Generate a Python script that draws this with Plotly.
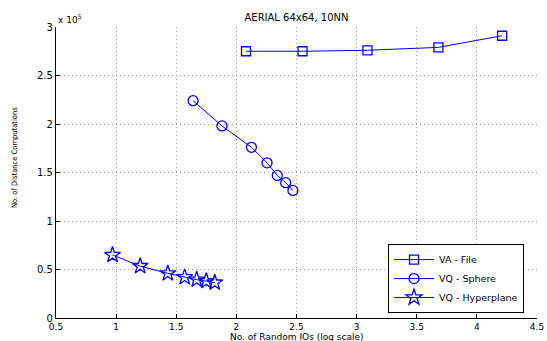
import plotly.graph_objects as go

# Data (y in units of 1e5 distance computations)
va_file_x = [2.08, 2.55, 3.09, 3.68, 4.21]
va_file_y = [2.75, 2.75, 2.76, 2.79, 2.91]

vq_sphere_x = [1.64, 1.88, 2.125, 2.255, 2.34, 2.41, 2.47]
vq_sphere_y = [2.24, 1.98, 1.76, 1.60, 1.47, 1.395, 1.315]

vq_hyper_x = [0.97, 1.20, 1.43, 1.57, 1.67, 1.75, 1.82]
vq_hyper_y = [0.65, 0.535, 0.46, 0.42, 0.395, 0.38, 0.365]

x_ticks = [0.5, 1, 1.5, 2, 2.5, 3, 3.5, 4, 4.5]
y_ticks = [0, 0.5, 1, 1.5, 2, 2.5, 3]

BLUE = "#0000ff"
FONT = "DejaVu Sans, Liberation Sans, Arial, sans-serif"

fig = go.Figure()
fig.add_trace(go.Scatter(x=va_file_x, y=va_file_y, mode="lines+markers", name="VA - File",
                         line=dict(color=BLUE, width=1),
                         marker=dict(symbol="square-open", size=9, color=BLUE, line=dict(width=1.3))))
fig.add_trace(go.Scatter(x=vq_sphere_x, y=vq_sphere_y, mode="lines+markers", name="VQ - Sphere",
                         line=dict(color=BLUE, width=1),
                         marker=dict(symbol="circle-open", size=10, color=BLUE, line=dict(width=1.3))))
fig.add_trace(go.Scatter(x=vq_hyper_x, y=vq_hyper_y, mode="lines+markers", name="VQ - Hyperplane",
                         line=dict(color=BLUE, width=1),
                         marker=dict(symbol="star-open", size=12, color=BLUE, line=dict(width=1.3))))

axis_common = dict(
    showline=True, linecolor="black", linewidth=1.3, mirror=False,
    ticks="inside", ticklen=4, tickcolor="black", tickwidth=1,
    showgrid=True, gridcolor="#9a9a9a", griddash="1px,3px", gridwidth=1,
    zeroline=False, automargin=False,
    tickfont=dict(family=FONT, size=10, color="black"),
)

fig.update_xaxes(range=[0.5, 4.5], tickvals=x_ticks, ticktext=[f"{v:g}" for v in x_ticks],
                 ticklabelstandoff=0, **axis_common)
fig.update_xaxes(tickfont=dict(size=9))
fig.update_yaxes(range=[0, 3], tickvals=y_ticks, ticktext=[f"{v:g}" for v in y_ticks],
                 **axis_common)

fig.add_annotation(text="No. of Random IOs (log scale)",
                   xref="paper", yref="paper", x=0.5, y=-0.064,
                   showarrow=False, xanchor="center", yanchor="middle",
                   font=dict(family=FONT, size=9, color="black"))
fig.add_annotation(text="No. of Distance Computations", textangle=-90,
                   xref="paper", yref="paper", x=-0.085, y=0.55,
                   showarrow=False, xanchor="center", yanchor="middle",
                   font=dict(family="DejaVu Sans Condensed, Liberation Sans Narrow, Arial Narrow, sans-serif",
                             size=7.5, color="black"))
fig.add_annotation(text="x 10<sup>5</sup>", xref="paper", yref="paper", x=0.0, y=1.0,
                   xanchor="left", yanchor="bottom", showarrow=False,
                   font=dict(family=FONT, size=9, color="black"))

fig.update_layout(
    width=547, height=341,
    margin=dict(l=56, r=10, t=27, b=23, autoexpand=False),
    paper_bgcolor="white", plot_bgcolor="white",
    title=dict(text="AERIAL 64x64, 10NN", x=0.5, xanchor="center", y=0.95, yanchor="middle",
               xref="paper", font=dict(family=FONT, size=10, color="black")),
    showlegend=True,
    legend=dict(x=0.973, y=0.017, xanchor="right", yanchor="bottom",
                bgcolor="white", bordercolor="black", borderwidth=1,
                font=dict(family=FONT, size=9.5, color="black"),
                tracegroupgap=0, itemwidth=40),
)

fig.write_html("out.html")
